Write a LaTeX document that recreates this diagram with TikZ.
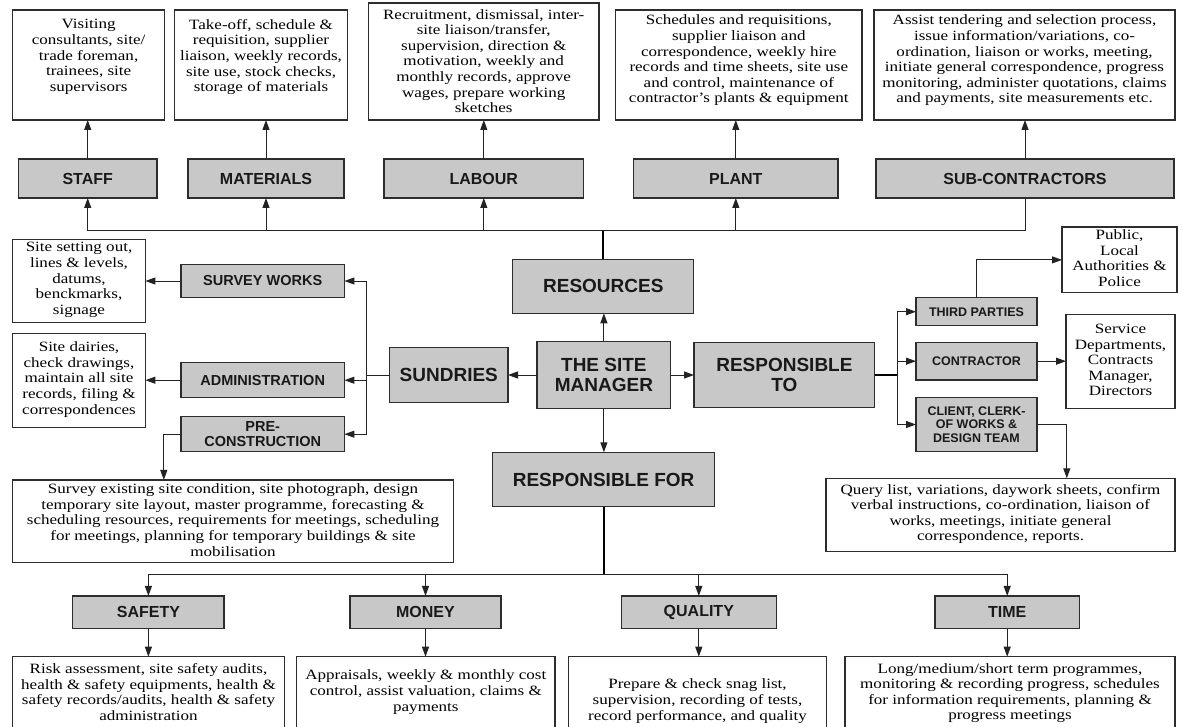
\documentclass[tikz,border=0pt]{standalone}
\usepackage{fontspec}
\setmainfont{Liberation Serif}[FakeStretch=1.2]
\newfontfamily\labfont{Liberation Sans}
\usetikzlibrary{arrows.meta}
\definecolor{boxgray}{RGB}{200,200,200}
\definecolor{edge}{RGB}{45,45,45}
\definecolor{wire}{RGB}{35,35,35}
\tikzset{
  gbox/.style={draw=edge, line width=1.2pt, fill=boxgray, inner sep=0pt, outer sep=0pt, align=center, text=black!90},
  dbox/.style={draw=edge, line width=1.1pt, fill=white, inner sep=0pt, outer sep=0pt},
  dtext/.style={align=center, inner sep=0pt, font=\fontsize{14.2}{15.6}\selectfont},
  conn/.style={draw=wire, line width=1pt},
  arr/.style={conn, -{Triangle[length=10pt,width=7pt]}},
  trunk/.style={draw=black, line width=2.2pt},
  biglab/.style={gbox, font=\labfont\bfseries\fontsize{19}{19.5}\selectfont},
  midlab/.style={gbox, font=\labfont\bfseries\fontsize{16}{17}\selectfont},
  sidelab/.style={gbox, font=\labfont\bfseries\fontsize{14.5}{15}\selectfont},
  smalllab/.style={gbox, font=\labfont\bfseries\fontsize{12.5}{13.5}\selectfont},
}
\begin{document}
\begin{tikzpicture}[x=1pt, y=-1pt]
\useasboundingbox (0,0) rectangle (1182,727);
\clip (0,0) rectangle (1182,727);
\fill[white] (0,0) rectangle (1182,727);

% ---------- top detail boxes ----------
\node[dbox, minimum width=152pt, minimum height=110pt] (staffD) at (88.6,65) {};
\node[dtext] (staffT) at (88.6,57) {Visiting\\consultants, site/\\trade foreman,\\trainees, site\\supervisors};
\node[dbox, minimum width=172.5pt, minimum height=110pt] (matD) at (261,65) {};
\node[dtext] (matT) at (261,57) {Take-off, schedule \&\\requisition, supplier\\liaison, weekly records,\\site use, stock checks,\\storage of materials};
\node[dbox, minimum width=230.5pt, minimum height=117pt] (labD) at (483.7,61.5) {};
\node[dtext] (labT) at (483.7,61) {Recruitment, dismissal, inter-\\site liaison/transfer,\\supervision, direction \&\\motivation, weekly and\\monthly records, approve\\wages, prepare working\\sketches};
\node[dbox, minimum width=246.4pt, minimum height=110pt] (plantD) at (738.8,65) {};
\node[dtext] (plantT) at (738.8,60.5) {Schedules and requisitions,\\supplier liaison and\\correspondence, weekly hire\\records and time sheets, site use\\and control, maintenance of\\contractor's plants \& equipment};
\node[dbox, minimum width=301pt, minimum height=110pt] (subD) at (1024.5,65) {};
\node[dtext] (subT) at (1024.5,60.5) {Assist tendering and selection process,\\issue information/variations, co-\\ordination, liaison or works, meeting,\\initiate general correspondence, progress\\monitoring, administer quotations, claims\\and payments, site measurements etc.};

% ---------- top grey boxes ----------
\node[midlab, minimum width=138.6pt, minimum height=39pt] (staffG) at (87.7,178.5) {STAFF};
\node[midlab, minimum width=156pt, minimum height=39pt] (matG) at (266,178.5) {MATERIALS};
\node[midlab, minimum width=199.6pt, minimum height=39pt] (labG) at (483.8,178.5) {LABOUR};
\node[midlab, minimum width=204.4pt, minimum height=39pt] (plantG) at (735.8,178.5) {PLANT};
\node[midlab, minimum width=298pt, minimum height=39pt] (subG) at (1025,178.5) {SUB-CONTRACTORS};

\foreach \g/\d in {staffG/staffD, matG/matD, labG/labD, plantG/plantD, subG/subD}
  \draw[arr] (\g.north) -- (\g.north |- \d.south);

% ---------- centre ----------
\node[biglab, minimum width=181pt, minimum height=54pt] (res) at (603.3,286.3) {RESOURCES};
\node[biglab, minimum width=133.7pt, minimum height=66.6pt] (mgr) at (603.9,375) {THE SITE\\MANAGER};
\node[biglab, minimum width=180.7pt, minimum height=65.4pt] (respTo) at (784.4,375) {RESPONSIBLE\\TO};
\node[biglab, minimum width=118.4pt, minimum height=55.4pt] (sund) at (448.8,375) {SUNDRIES};
\node[biglab, minimum width=222.2pt, minimum height=54.4pt] (respFor) at (603.6,479.5) {RESPONSIBLE FOR};

\coordinate (tb) at (604,231);
\draw[trunk] (res.north) -- (res.north |- tb);
\draw[conn] (tb -| staffG.south) -- (tb -| subG.south);
\foreach \g in {staffG, matG, labG, plantG}
  \draw[arr] (tb -| \g.south) -- (\g.south);
\draw[conn] (tb -| subG.south) -- (subG.south);

\draw[arr] (mgr.north) -- (mgr.north |- res.south);
\draw[arr] (mgr.south) -- (mgr.south |- respFor.north);
\draw[arr] (mgr.west) -- (sund.east);
\draw[arr] (mgr.east) -- (respTo.west);

% ---------- sundries branch ----------
\node[sidelab, minimum width=163.4pt, minimum height=33.4pt] (surveyG) at (262.7,281) {SURVEY WORKS};
\node[sidelab, minimum width=163.4pt, minimum height=35pt] (adminG) at (262.7,380.2) {ADMINISTRATION};
\node[sidelab, minimum width=163.4pt, minimum height=35pt] (preG) at (262.7,434.2) {PRE-\\CONSTRUCTION};

\node[dbox, minimum width=132.8pt, minimum height=82.7pt] (setD) at (79,280.7) {};
\node[dtext] (setT) at (79,280) {Site setting out,\\lines \& levels,\\datums,\\benckmarks,\\signage};
\node[dbox, minimum width=132.8pt, minimum height=94pt] (dairD) at (79,380.3) {};
\node[dtext] (dairT) at (79,379.5) {Site dairies,\\check drawings,\\maintain all site\\records, filing \&\\correspondences};
\node[dbox, minimum width=441pt, minimum height=82.7pt] (survD) at (233,521.3) {};
\node[dtext] (survT) at (233,520) {Survey existing site condition, site photograph, design\\temporary site layout, master programme, forecasting \&\\scheduling resources, requirements for meetings, scheduling\\for meetings, planning for temporary buildings \& site\\mobilisation};

\coordinate (lj) at (366.7,375);
\draw[conn] (sund.west) -- (lj);
\draw[conn] (lj |- surveyG.east) -- (lj |- preG.east);
\draw[arr] (lj |- surveyG.east) -- (surveyG.east);
\draw[arr] (lj |- adminG.east) -- (adminG.east);
\draw[arr] (lj |- preG.east) -- (preG.east);
\draw[arr] (surveyG.west) -- (surveyG.west -| setD.east);
\draw[arr] (adminG.west) -- (adminG.west -| dairD.east);
\draw[arr] (preG.west) -| ([xshift=-69.2pt]survD.north);

% ---------- responsible-to branch ----------
\node[smalllab, minimum width=121pt, minimum height=28pt] (tpG) at (976.5,311.7) {THIRD PARTIES};
\node[smalllab, minimum width=121pt, minimum height=37.7pt] (conG) at (976.5,361.2) {CONTRACTOR};
\node[smalllab, minimum width=121pt, minimum height=54.4pt] (cliG) at (976.5,424.5) {CLIENT, CLERK-\\OF WORKS \&\\DESIGN TEAM};

\node[dbox, minimum width=115pt, minimum height=65.7pt] (pubD) at (1119.5,259.9) {};
\node[dtext] (pubT) at (1119.5,258) {Public,\\Local\\Authorities \&\\Police};
\node[dbox, minimum width=109pt, minimum height=94pt] (servD) at (1120.5,361.3) {};
\node[dtext] (servT) at (1120.5,360) {Service\\Departments,\\Contracts\\Manager,\\Directors};
\node[dbox, minimum width=349pt, minimum height=73.4pt] (queryD) at (1000.5,515) {};
\node[dtext] (queryT) at (1000.5,514) {Query list, variations, daywork sheets, confirm\\verbal instructions, co-ordination, liaison of\\works, meetings, initiate general\\correspondence, reports.};

\coordinate (rj) at (897,375);
\draw[conn, draw=black, line width=1.4pt] (respTo.east) -- (rj);
\draw[conn] (rj |- tpG.west) -- (rj |- cliG.west);
\draw[arr] (rj |- tpG.west) -- (tpG.west);
\draw[arr] (rj |- conG.west) -- (conG.west);
\draw[arr] (rj |- cliG.west) -- (cliG.west);
\draw[arr] (tpG.north) |- (pubD.west);
\draw[arr] (conG.east) -- (conG.east -| servD.west);
\draw[arr] (cliG.east) -| ([xshift=66.3pt]queryD.north);

% ---------- responsible-for branch ----------
\node[midlab, minimum width=151.3pt, minimum height=32.7pt] (safG) at (148.4,612.3) {SAFETY};
\node[midlab, minimum width=151pt, minimum height=32.7pt] (monG) at (425.5,612.3) {MONEY};
\node[midlab, minimum width=155pt, minimum height=32.7pt] (qualG) at (698.8,612.3) {QUALITY};
\node[midlab, minimum width=144.4pt, minimum height=32.7pt] (timeG) at (1007.2,612.3) {TIME};

\node[dbox, minimum width=271.7pt, minimum height=78.3pt] (safD) at (148.5,695.85) {};
\node[dtext] (safT) at (148.5,692) {Risk assessment, site safety audits,\\health \& safety equipments, health \&\\safety records/audits, health \& safety\\administration};
\node[dbox, minimum width=258.4pt, minimum height=78.3pt] (monD) at (425.8,695.85) {};
\node[dtext] (monT) at (425.8,692) {Appraisals, weekly \& monthly cost\\control, assist valuation, claims \&\\payments};
\node[dbox, minimum width=258.5pt, minimum height=78.3pt] (qualD) at (697.5,695.85) {};
\node[dtext] (qualT) at (697.5,701) {Prepare \& check snag list,\\supervision, recording of tests,\\record performance, and quality};
\node[dbox, minimum width=330pt, minimum height=78.3pt] (timeD) at (1010,695.85) {};
\node[dtext] (timeT) at (1010,693) {Long/medium/short term programmes,\\monitoring \& recording progress, schedules\\for information requirements, planning \&\\progress meetings};

\coordinate (bb) at (604,574.3);
\draw[trunk] (respFor.south) -- (respFor.south |- bb);
\draw[conn] (bb -| safG.north) -- (bb -| timeG.north);
\foreach \g/\d in {safG/safD, monG/monD, qualG/qualD, timeG/timeD} {
  \draw[arr] (bb -| \g.north) -- (\g.north);
  \draw[arr] (\g.south) -- (\g.south |- \d.north);
}
\end{tikzpicture}
\end{document}
